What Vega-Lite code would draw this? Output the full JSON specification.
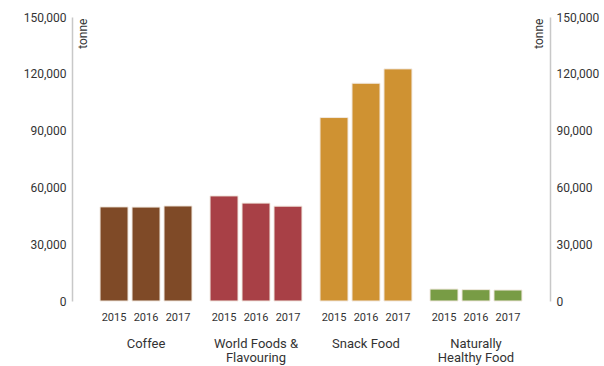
{
  "$schema": "https://vega.github.io/schema/vega-lite/v6.json",
  "autosize": "none",
  "width": 478,
  "height": 284,
  "padding": {"left": 72, "top": 17, "right": 54, "bottom": 65},
  "background": "white",
  "config": {"view": {"stroke": null}, "font": "Roboto"},
  "data": {"values": [
    {"category": "Coffee", "year": "2015", "tonne": 49700},
    {"category": "Coffee", "year": "2016", "tonne": 49600},
    {"category": "Coffee", "year": "2017", "tonne": 50200},
    {"category": "World Foods & Flavouring", "year": "2015", "tonne": 55500},
    {"category": "World Foods & Flavouring", "year": "2016", "tonne": 51700},
    {"category": "World Foods & Flavouring", "year": "2017", "tonne": 50100},
    {"category": "Snack Food", "year": "2015", "tonne": 96900},
    {"category": "Snack Food", "year": "2016", "tonne": 115000},
    {"category": "Snack Food", "year": "2017", "tonne": 122600},
    {"category": "Naturally Healthy Food", "year": "2015", "tonne": 6300},
    {"category": "Naturally Healthy Food", "year": "2016", "tonne": 6000},
    {"category": "Naturally Healthy Food", "year": "2017", "tonne": 5800}
  ]},
  "encoding": {
    "x": {
      "field": "category", "type": "nominal", "sort": null,
      "scale": {"paddingInner": 0.164, "paddingOuter": 0.255},
      "axis": {
        "title": null, "domain": false, "ticks": false, "labelAngle": 0,
        "labelPadding": 36, "labelFontSize": 13, "labelColor": "#333333",
        "labelFont": "Roboto", "labelLineHeight": 14,
        "labelExpr": "datum.label == 'World Foods & Flavouring' ? ['World Foods &', 'Flavouring'] : datum.label == 'Naturally Healthy Food' ? ['Naturally', 'Healthy Food'] : datum.label"
      }
    },
    "xOffset": {"field": "year", "type": "nominal", "scale": {"paddingInner": 0.125, "paddingOuter": 0}}
  },
  "layer": [
    {
      "mark": {"type": "bar", "stroke": "#f1e8df", "strokeWidth": 1},
      "encoding": {
        "y": {
          "field": "tonne", "type": "quantitative",
          "scale": {"domain": [0, 150000]},
          "axis": {
            "orient": "left", "values": [0, 30000, 60000, 90000, 120000, 150000],
            "format": ",d", "formatType": "number", "grid": false, "ticks": false,
            "domainColor": "#c8c8c8", "domainWidth": 1.5,
            "labelPadding": 6, "labelFontSize": 12, "labelColor": "#333333",
            "labelFont": "Roboto",
            "title": "tonne", "titleAngle": -90, "titleAlign": "right",
            "titleBaseline": "top", "titleX": 5, "titleY": 1,
            "titleFontSize": 12, "titleFontWeight": "normal", "titleColor": "#333333",
            "titleFont": "Roboto"
          }
        },
        "color": {
          "field": "category", "type": "nominal", "sort": null, "legend": null,
          "scale": {
            "domain": ["Coffee", "World Foods & Flavouring", "Snack Food", "Naturally Healthy Food"],
            "range": ["#7f4a27", "#a84046", "#cf9232", "#789c45"]
          }
        }
      }
    },
    {
      "mark": {"type": "bar", "opacity": 0},
      "encoding": {
        "y": {
          "field": "tonne", "type": "quantitative",
          "scale": {"domain": [0, 150000]},
          "axis": {
            "orient": "right", "values": [0, 30000, 60000, 90000, 120000, 150000],
            "format": ",d", "formatType": "number", "grid": false, "ticks": false,
            "domainColor": "#c8c8c8", "domainWidth": 1.5,
            "labelPadding": 6, "labelFontSize": 12, "labelColor": "#333333",
            "labelFont": "Roboto",
            "title": "tonne", "titleAngle": -90, "titleAlign": "right",
            "titleBaseline": "bottom", "titleX": -5, "titleY": 1,
            "titleFontSize": 12, "titleFontWeight": "normal", "titleColor": "#333333",
            "titleFont": "Roboto"
          }
        }
      }
    },
    {
      "mark": {"type": "text", "baseline": "middle", "dy": 17, "fontSize": 11, "color": "#333333", "font": "Roboto"},
      "encoding": {
        "y": {"datum": 0, "type": "quantitative", "scale": {"domain": [0, 150000]}, "axis": null},
        "text": {"field": "year", "type": "nominal"}
      }
    }
  ],
  "resolve": {"scale": {"y": "independent"}}
}
